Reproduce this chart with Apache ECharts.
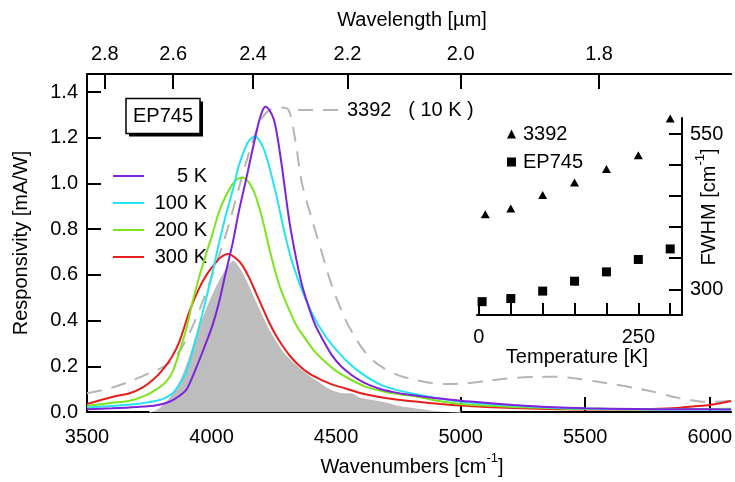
<!DOCTYPE html>
<html>
<head>
<meta charset="utf-8">
<script src="https://cdn.jsdelivr.net/npm/echarts@6/dist/echarts.min.js"></script>
<style>
  html, body { margin: 0; padding: 0; background: #fff; }
  #chart { width: 735px; height: 482px; }
</style>
</head>
<body>
<div id="chart"></div>
<script>
// Photoresponse spectra of EP745 at several temperatures, with sample 3392 (10 K)
// for comparison and an inset of the FWHM versus temperature.

const wn5K = [3500, 3600, 3700, 3780, 3831, 3870, 3900, 3937, 3970, 4004, 4030, 4057, 4085, 4110, 4135, 4157, 4175, 4190, 4205, 4216, 4230, 4250, 4265, 4283, 4300, 4316, 4340, 4363, 4390, 4416, 4450, 4482, 4520, 4562, 4610, 4668, 4730, 4801, 4907, 5000, 5100, 5213, 5350, 5500, 5700, 5850, 6000, 6086];
const resp5K = [0.012, 0.016, 0.022, 0.03, 0.045, 0.07, 0.10, 0.19, 0.28, 0.38, 0.48, 0.61, 0.74, 0.88, 1.0, 1.11, 1.2, 1.27, 1.32, 1.336, 1.325, 1.28, 1.2, 1.07, 0.93, 0.81, 0.67, 0.556, 0.46, 0.381, 0.31, 0.25, 0.20, 0.162, 0.13, 0.104, 0.087, 0.074, 0.06, 0.049, 0.04, 0.031, 0.022, 0.016, 0.013, 0.012, 0.012, 0.011];

const wn100K = [3500, 3600, 3700, 3738, 3800, 3844, 3871, 3900, 3937, 3970, 4004, 4030, 4057, 4085, 4110, 4143, 4160, 4174, 4190, 4210, 4230, 4260, 4290, 4323, 4376, 4429, 4495, 4575, 4668, 4730, 4801, 4907, 5000, 5100, 5213, 5350, 5500, 5700, 5900, 6086];
const resp100K = [0.02, 0.026, 0.035, 0.041, 0.055, 0.082, 0.12, 0.18, 0.32, 0.46, 0.61, 0.74, 0.86, 0.97, 1.08, 1.175, 1.198, 1.204, 1.192, 1.15, 1.08, 0.95, 0.80, 0.658, 0.497, 0.38, 0.278, 0.191, 0.125, 0.10, 0.082, 0.06, 0.045, 0.036, 0.028, 0.02, 0.015, 0.012, 0.011, 0.011];

const wn200K = [3500, 3600, 3671, 3738, 3780, 3818, 3845, 3871, 3900, 3924, 3950, 3977, 4004, 4030, 4057, 4083, 4105, 4126, 4150, 4170, 4190, 4210, 4233, 4256, 4280, 4309, 4340, 4376, 4410, 4456, 4500, 4562, 4620, 4695, 4760, 4828, 4900, 5000, 5100, 5213, 5350, 5500, 5700, 5900, 6086];
const resp200K = [0.027, 0.04, 0.049, 0.074, 0.10, 0.133, 0.18, 0.264, 0.37, 0.483, 0.59, 0.687, 0.78, 0.876, 0.945, 0.995, 1.02, 1.025, 1.005, 0.965, 0.90, 0.818, 0.71, 0.614, 0.53, 0.454, 0.38, 0.322, 0.27, 0.22, 0.18, 0.14, 0.11, 0.089, 0.077, 0.067, 0.05, 0.035, 0.028, 0.022, 0.017, 0.013, 0.011, 0.012, 0.014];

const wn300K = [3500, 3605, 3671, 3724, 3764, 3800, 3840, 3871, 3911, 3950, 3980, 4004, 4035, 4067, 4095, 4123, 4150, 4176, 4203, 4230, 4256, 4283, 4315, 4349, 4390, 4429, 4480, 4535, 4600, 4668, 4740, 4828, 4920, 5000, 5100, 5213, 5350, 5500, 5650, 5760, 5865, 5930, 6000, 6050, 6086];
const resp300K = [0.035, 0.067, 0.082, 0.108, 0.14, 0.18, 0.24, 0.308, 0.439, 0.541, 0.60, 0.636, 0.675, 0.691, 0.675, 0.643, 0.59, 0.527, 0.46, 0.395, 0.34, 0.293, 0.245, 0.206, 0.17, 0.147, 0.122, 0.104, 0.082, 0.067, 0.055, 0.045, 0.035, 0.028, 0.022, 0.017, 0.013, 0.011, 0.011, 0.013, 0.017, 0.024, 0.031, 0.04, 0.048];

const wnShaded = [3751, 3790, 3831, 3871, 3900, 3930, 3960, 3990, 4020, 4050, 4070, 4085, 4100, 4125, 4150, 4176, 4200, 4230, 4260, 4290, 4320, 4350, 4390, 4430, 4481, 4530, 4560, 4600, 4650, 4700, 4748, 4800, 4880, 4950, 5000];
const respShaded = [0, 0.02, 0.067, 0.14, 0.22, 0.32, 0.41, 0.49, 0.56, 0.62, 0.65, 0.665, 0.655, 0.615, 0.56, 0.497, 0.44, 0.37, 0.315, 0.265, 0.23, 0.2, 0.165, 0.135, 0.1, 0.085, 0.085, 0.065, 0.055, 0.045, 0.031, 0.022, 0.01, 0.003, 0];

const wn3392 = [3500, 3592, 3676, 3750, 3807, 3850, 3890, 3930, 3970, 4010, 4050, 4090, 4130, 4170, 4205, 4240, 4280, 4310, 4336, 4363, 4402, 4442, 4482, 4535, 4580, 4615, 4660, 4695, 4750, 4820, 4880, 4950, 5014, 5100, 5187, 5300, 5386, 5470, 5545, 5620, 5705, 5780, 5851, 5920, 5971, 6030, 6086];
const resp3392 = [0.082, 0.104, 0.135, 0.17, 0.198, 0.235, 0.30, 0.39, 0.50, 0.62, 0.75, 0.90, 1.06, 1.2, 1.29, 1.325, 1.332, 1.32, 1.19, 1.0, 0.847, 0.70, 0.556, 0.41, 0.32, 0.264, 0.215, 0.19, 0.16, 0.14, 0.127, 0.122, 0.125, 0.135, 0.147, 0.153, 0.154, 0.145, 0.133, 0.12, 0.104, 0.087, 0.067, 0.052, 0.045, 0.045, 0.05];

// Inset: FWHM [cm^-1] vs temperature [K]
const temp3392 = [10, 50, 100, 150, 200, 250, 300];
const fwhm3392 = [421, 430, 452, 472, 494, 516, 575];
const tempEP745 = [5, 50, 100, 150, 200, 250, 300];
const fwhmEP745 = [280, 285, 297, 313, 328, 348, 365];

// Axis ticks and labels
const wavenumberTicks = [3500, 4000, 4500, 5000, 5500, 6000];
const wavelengthTicks = [2.8, 2.6, 2.4, 2.2, 2.0, 1.8];
const respTicks = [0, 0.2, 0.4, 0.6, 0.8, 1.0, 1.2, 1.4];
const tempTicks = [0, 50, 100, 150, 200, 250, 300];
const tempLabels = [0, 250];
const fwhmTicks = [300, 350, 400, 450, 500, 550];
const fwhmLabels = [300, 550];

const FONT = 'Liberation Sans, Arial, sans-serif';
const pairs = (xs, ys) => xs.map((x, i) => [x, ys[i]]);

const axisLine = { show: true, onZero: false, lineStyle: { color: '#000', width: 2 } };
const tick = (vals, len) => ({ show: true, inside: true, length: len, customValues: vals, lineStyle: { color: '#000', width: 2 } });
const label = (vals, margin, fmt) => ({
  show: true, customValues: vals, margin: margin, color: '#000',
  fontSize: 20, fontFamily: FONT, formatter: fmt
});

const lineSeries = (name, xs, ys, color) => ({
  name: name, type: 'line', xAxisIndex: 0, yAxisIndex: 0,
  data: pairs(xs, ys), symbol: 'none', smooth: 0.3,
  lineStyle: { color: color, width: 2 }, itemStyle: { color: color }, z: 4
});

const chart = echarts.init(document.getElementById('chart'), null, { renderer: 'canvas' });

chart.setOption({
  animation: false,
  backgroundColor: '#fff',
  textStyle: { fontFamily: FONT },
  grid: [
    { left: 87, right: 0, top: 74, bottom: 70 },
    { left: 477, right: 53, top: 118, bottom: 167 }
  ],
  xAxis: [
    {
      type: 'value', gridIndex: 0, position: 'bottom', min: 3500, max: 6086,
      axisLine: axisLine, axisTick: tick(wavenumberTicks, 15),
      axisLabel: label(wavenumberTicks, 15, v => String(v)),
      splitLine: { show: false }
    },
    {
      type: 'value', gridIndex: 0, position: 'top', min: 3500, max: 6086,
      axisLine: axisLine,
      axisTick: tick(wavelengthTicks.map(w => 10000 / w), 15),
      axisLabel: label(wavelengthTicks.map(w => 10000 / w), 10, v => (10000 / v).toFixed(1)),
      splitLine: { show: false }
    },
    {
      type: 'value', gridIndex: 1, position: 'bottom', min: -3, max: 318.5,
      axisLine: axisLine, axisTick: tick(tempTicks, 12),
      axisLabel: label(tempLabels, 12, v => String(v)),
      splitLine: { show: false }
    }
  ],
  yAxis: [
    {
      type: 'value', gridIndex: 0, position: 'left', min: 0, max: 1.479,
      axisLine: axisLine, axisTick: tick(respTicks, 14),
      axisLabel: label(respTicks, 9, v => v.toFixed(1)),
      splitLine: { show: false }
    },
    {
      type: 'value', gridIndex: 1, position: 'right', min: 258.5, max: 576,
      axisLine: axisLine, axisTick: tick(fwhmTicks, 13),
      axisLabel: label(fwhmLabels, 8, v => String(v)),
      splitLine: { show: false }
    }
  ],
  legend: [
    {
      data: ['5 K', '100 K', '200 K', '300 K'],
      orient: 'vertical', left: 107, top: 161,
      itemWidth: 31, itemHeight: 14, itemGap: 7, selectedMode: false,
      itemStyle: { opacity: 0 },
      formatter: '{a|{name}}',
      textStyle: { color: '#000', fontSize: 20, fontFamily: FONT, rich: { a: { width: 58, align: 'right', fontSize: 20, fontFamily: FONT } } }
    },
    {
      data: ['3392   ( 10 K )'],
      left: 292, top: 95,
      itemWidth: 43, itemHeight: 14, selectedMode: false,
      itemStyle: { opacity: 0 },
      formatter: '{a|{name}}',
      textStyle: { color: '#000', fontSize: 20, fontFamily: FONT, rich: { a: { padding: [0, 0, 0, 1], fontSize: 20, fontFamily: FONT } } }
    },
    {
      data: [{ name: '3392', icon: 'triangle' }, { name: 'EP745', icon: 'rect' }],
      orient: 'vertical', left: 502, top: 119,
      itemWidth: 9, itemHeight: 9, itemGap: 8, selectedMode: false,
      itemStyle: { color: '#000', opacity: 1 },
      formatter: '{a|{name}}',
      textStyle: { color: '#000', fontSize: 20, fontFamily: FONT, rich: { a: { padding: [0, 0, 0, 2], fontSize: 20, fontFamily: FONT } } }
    }
  ],
  series: [
    {
      name: 'shaded', type: 'line', xAxisIndex: 0, yAxisIndex: 0,
      data: pairs(wnShaded, respShaded), symbol: 'none', smooth: 0.3,
      lineStyle: { color: '#fff', width: 1.5 },
      areaStyle: { color: '#bdbdbd', opacity: 1 }, z: 1
    },
    {
      name: '3392   ( 10 K )', type: 'line', xAxisIndex: 0, yAxisIndex: 0,
      data: pairs(wn3392, resp3392), symbol: 'none', smooth: 0.3,
      lineStyle: { color: '#b5b5b5', width: 2, type: [15, 10] },
      itemStyle: { color: '#b5b5b5' }, z: 2
    },
    lineSeries('300 K', wn300K, resp300K, '#e61e1e'),
    lineSeries('200 K', wn200K, resp200K, '#7ee41f'),
    lineSeries('100 K', wn100K, resp100K, '#26e3f0'),
    lineSeries('5 K', wn5K, resp5K, '#7f22dc'),
    {
      name: '3392', type: 'scatter', xAxisIndex: 2, yAxisIndex: 1, clip: false,
      data: pairs(temp3392, fwhm3392), symbol: 'triangle', symbolSize: [9, 8],
      itemStyle: { color: '#000', opacity: 1 }, z: 5
    },
    {
      name: 'EP745', type: 'scatter', xAxisIndex: 2, yAxisIndex: 1, clip: false,
      data: pairs(tempEP745, fwhmEP745), symbol: 'rect', symbolSize: 9,
      itemStyle: { color: '#000', opacity: 1 }, z: 5
    }
  ],
  graphic: [
    { type: 'rect', z: 100, shape: { x: 129, y: 101.5, width: 74, height: 35 }, style: { fill: '#000' } },
    { type: 'rect', z: 101, shape: { x: 126, y: 98.5, width: 74, height: 35 }, style: { fill: '#fff', stroke: '#000', lineWidth: 1.5 } },
    { type: 'text', z: 102, x: 163, y: 116, style: { text: 'EP745', fontSize: 20, fontFamily: FONT, fill: '#000', align: 'center', verticalAlign: 'middle' } },
    { type: 'text', z: 100, x: 412, y: 20, style: { text: 'Wavelength [µm]', fontSize: 20, fontFamily: FONT, fill: '#000', align: 'center', verticalAlign: 'middle' } },
    {
      type: 'text', z: 100, x: 412, y: 467,
      style: {
        text: 'Wavenumbers [cm{s|-1}]', fontSize: 20, fontFamily: FONT, fill: '#000', lineHeight: 30,
        align: 'center', verticalAlign: 'middle',
        rich: { s: { fontSize: 13, lineHeight: 13, fontFamily: FONT, verticalAlign: 'top', fill: '#000' } }
      }
    },
    { type: 'text', z: 100, x: 21, y: 243, rotation: Math.PI / 2, style: { text: 'Responsivity [mA/W]', fontSize: 20, fontFamily: FONT, fill: '#000', align: 'center', verticalAlign: 'middle' } },
    { type: 'text', z: 100, x: 577, y: 357, style: { text: 'Temperature [K]', fontSize: 20, fontFamily: FONT, fill: '#000', align: 'center', verticalAlign: 'middle' } },
    {
      type: 'text', z: 100, x: 709, y: 207, rotation: Math.PI / 2,
      style: {
        text: 'FWHM [cm{s|-1}]', fontSize: 20, fontFamily: FONT, fill: '#000', lineHeight: 30,
        align: 'center', verticalAlign: 'middle',
        rich: { s: { fontSize: 13, lineHeight: 13, fontFamily: FONT, verticalAlign: 'top', fill: '#000' } }
      }
    }
  ]
});
</script>
</body>
</html>
